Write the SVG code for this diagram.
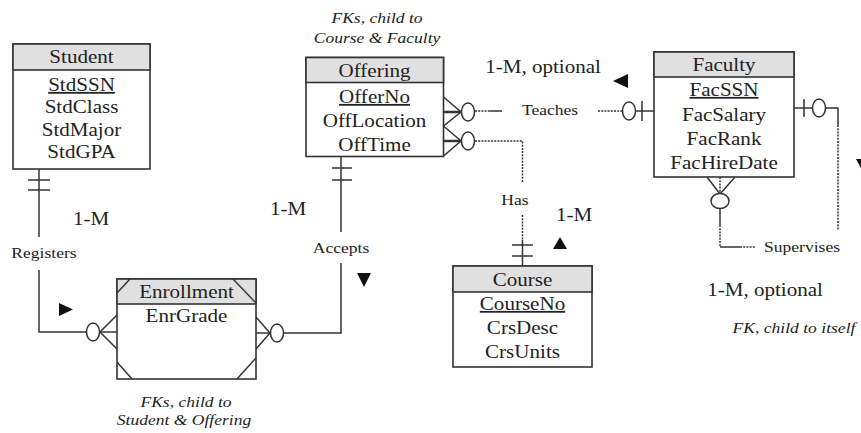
<svg xmlns="http://www.w3.org/2000/svg" width="861" height="433" viewBox="0 0 861 433">
<style>
.box{fill:#fff;stroke:#333;stroke-width:1.6}
.hdr{fill:#e0e0e0;stroke:#333;stroke-width:1.6}
.t{font-family:"Liberation Serif","Times New Roman",serif;font-size:18px;fill:#222;text-anchor:middle}
.s{font-family:"Liberation Serif","Times New Roman",serif;font-size:15px;fill:#222;text-anchor:middle}
.i{font-family:"Liberation Serif","Times New Roman",serif;font-size:15px;font-style:italic;fill:#222;text-anchor:middle}
.u{text-decoration:underline}
.ln{fill:none;stroke:#333;stroke-width:1.5}
.dt{fill:none;stroke:#333;stroke-width:1.5;stroke-dasharray:2 1.2}
.ov{fill:#fff;stroke:#333;stroke-width:1.5}
.tri{fill:#111}
</style>

<g id="connectors">
  <!-- Student - Enrollment (Registers) -->
  <line class="ln" x1="39" y1="169" x2="39" y2="237"/>
  <line class="ln" x1="28" y1="180" x2="50" y2="180"/>
  <line class="ln" x1="28" y1="190" x2="50" y2="190"/>
  <polyline class="ln" points="39,270 39,332 86,332"/>
  <polyline class="ln" points="117,315 100,332 117,349"/>
  <line class="ln" x1="100" y1="332" x2="117" y2="332"/>
  <ellipse class="ov" cx="93" cy="332" rx="6.5" ry="9"/>
  <text class="s" transform="translate(44,258) scale(1.17,1)">Registers</text>
  <text class="t" transform="translate(91,225) scale(1.17,1)">1-M</text>
  <polygon class="tri" points="59,303 73,309.5 59,316"/>

  <!-- Offering - Enrollment (Accepts) -->
  <line class="ln" x1="341" y1="157" x2="341" y2="232"/>
  <line class="ln" x1="332" y1="168" x2="352" y2="168"/>
  <line class="ln" x1="332" y1="180" x2="352" y2="180"/>
  <polyline class="ln" points="341,263 341,333 284,333"/>
  <polyline class="ln" points="256,317 270,333 256,349"/>
  <line class="ln" x1="256" y1="333" x2="270" y2="333"/>
  <ellipse class="ov" cx="277" cy="333" rx="6.5" ry="9"/>
  <text class="s" transform="translate(341,253) scale(1.17,1)">Accepts</text>
  <text class="t" transform="translate(288,215) scale(1.17,1)">1-M</text>
  <polygon class="tri" points="357,273 371,273 364,287"/>

  <!-- Faculty - Offering (Teaches) -->
  <polyline class="ln" points="443.5,97 461,112 443.5,126"/>
  <line class="ln" x1="443.5" y1="112" x2="461" y2="112" style="stroke-width:2.5"/>
  <ellipse class="ov" cx="468" cy="112" rx="6.5" ry="9"/>
  <line class="dt" x1="475" y1="111" x2="490" y2="111"/>
  <line class="ln" x1="490" y1="111" x2="502" y2="111"/>
  <text class="s" transform="translate(550,115) scale(1.17,1)">Teaches</text>
  <line class="dt" x1="598" y1="111" x2="622" y2="111"/>
  <line class="ln" x1="622" y1="111" x2="657" y2="111"/>
  <ellipse class="ov" cx="629" cy="111" rx="6.5" ry="9"/>
  <line class="ln" x1="642" y1="101" x2="642" y2="121"/>
  <text class="t" transform="translate(543,73) scale(1.17,1)">1-M, optional</text>
  <polygon class="tri" points="613,81 628,74 628,88"/>

  <!-- Course - Offering (Has) -->
  <polyline class="ln" points="443.5,126 461,141 443.5,156"/>
  <line class="ln" x1="443.5" y1="141" x2="461" y2="141" style="stroke-width:2.5"/>
  <ellipse class="ov" cx="468" cy="141" rx="6.5" ry="9"/>
  <polyline class="dt" points="475,141 522.5,141 522.5,183"/>
  <text class="s" transform="translate(515,205) scale(1.17,1)">Has</text>
  <line class="dt" x1="522.5" y1="215" x2="522.5" y2="240"/>
  <line class="ln" x1="522.5" y1="240" x2="522.5" y2="266"/>
  <line class="ln" x1="512" y1="245" x2="533" y2="245"/>
  <line class="ln" x1="512" y1="256" x2="533" y2="256"/>
  <text class="t" transform="translate(574,221) scale(1.17,1)">1-M</text>
  <polygon class="tri" points="553,249 560,237 567,249"/>

  <!-- Faculty self (Supervises) -->
  <line class="ln" x1="794" y1="108" x2="812" y2="108"/>
  <line class="ln" x1="804" y1="99" x2="804" y2="117"/>
  <ellipse class="ov" cx="819" cy="108" rx="6.5" ry="9"/>
  <polyline class="ln" points="825.5,108 838,108 838,125"/>
  <line class="dt" x1="838" y1="125" x2="838" y2="230"/>
  <polyline class="ln" points="707,177 720,194 735,177"/>
  <line class="dt" x1="720" y1="177" x2="720" y2="194"/>
  <ellipse class="ov" cx="720" cy="201" rx="9" ry="7.5"/>
  <line class="ln" x1="720" y1="208.5" x2="720" y2="225"/>
  <line class="dt" x1="720" y1="225" x2="720" y2="247"/>
  <line class="ln" x1="720" y1="247" x2="740" y2="247"/>
  <line class="dt" x1="740" y1="247" x2="755" y2="247"/>
  <text class="s" transform="translate(802,252) scale(1.17,1)">Supervises</text>
  <text class="t" transform="translate(765,296) scale(1.17,1)">1-M, optional</text>
  <polygon class="tri" points="856,159 870,159 863,172"/>
</g>

<g id="student">
  <rect class="box" x="13" y="44" width="137" height="125"/>
  <rect class="hdr" x="13" y="44" width="137" height="26"/>
  <text class="t" transform="translate(81.5,63) scale(1.17,1)">Student</text>
  <text class="t u" transform="translate(81.5,91) scale(1.17,1)">StdSSN</text>
  <text class="t" transform="translate(81.5,113) scale(1.17,1)">StdClass</text>
  <text class="t" transform="translate(81.5,136) scale(1.17,1)">StdMajor</text>
  <text class="t" transform="translate(81.5,158) scale(1.17,1)">StdGPA</text>
</g>

<g id="offering">
  <text class="i" transform="translate(377,23) scale(1.17,1)">FKs, child to</text>
  <text class="i" transform="translate(377,43) scale(1.17,1)">Course &amp; Faculty</text>
  <rect class="box" x="306" y="57.5" width="137.5" height="99"/>
  <rect class="hdr" x="306" y="57.5" width="137.5" height="25"/>
  <text class="t" transform="translate(374.5,77) scale(1.17,1)">Offering</text>
  <text class="t u" transform="translate(374.5,103) scale(1.17,1)">OfferNo</text>
  <text class="t" transform="translate(374.5,127) scale(1.17,1)">OffLocation</text>
  <text class="t" transform="translate(374.5,151) scale(1.17,1)">OffTime</text>
</g>

<g id="faculty">
  <rect class="box" x="654" y="52" width="140" height="125"/>
  <rect class="hdr" x="654" y="52" width="140" height="25"/>
  <text class="t" transform="translate(724,71) scale(1.17,1)">Faculty</text>
  <text class="t u" transform="translate(724,96) scale(1.17,1)">FacSSN</text>
  <text class="t" transform="translate(724,121) scale(1.17,1)">FacSalary</text>
  <text class="t" transform="translate(724,145) scale(1.17,1)">FacRank</text>
  <text class="t" transform="translate(724,169) scale(1.17,1)">FacHireDate</text>
  <text class="i" transform="translate(794,333) scale(1.17,1)">FK, child to itself</text>
</g>

<g id="course">
  <rect class="box" x="453" y="266" width="139" height="101"/>
  <rect class="hdr" x="453" y="266" width="139" height="26"/>
  <text class="t" transform="translate(522.5,286) scale(1.17,1)">Course</text>
  <text class="t u" transform="translate(522.5,310) scale(1.17,1)">CourseNo</text>
  <text class="t" transform="translate(522.5,334) scale(1.17,1)">CrsDesc</text>
  <text class="t" transform="translate(522.5,358) scale(1.17,1)">CrsUnits</text>
</g>

<g id="enrollment">
  <rect class="box" x="117" y="279" width="139" height="100"/>
  <rect class="hdr" x="117" y="279" width="139" height="25"/>
  <line class="ln" x1="117" y1="293" x2="130" y2="279"/>
  <line class="ln" x1="233" y1="279" x2="256" y2="303"/>
  <line class="ln" x1="117" y1="362" x2="132" y2="379"/>
  <line class="ln" x1="237" y1="379" x2="256" y2="358"/>
  <text class="t" transform="translate(186.5,298) scale(1.17,1)">Enrollment</text>
  <text class="t" transform="translate(186.5,322) scale(1.17,1)">EnrGrade</text>
  <text class="i" transform="translate(186,407) scale(1.17,1)">FKs, child to</text>
  <text class="i" transform="translate(184,425) scale(1.17,1)">Student &amp; Offering</text>
</g>
</svg>
